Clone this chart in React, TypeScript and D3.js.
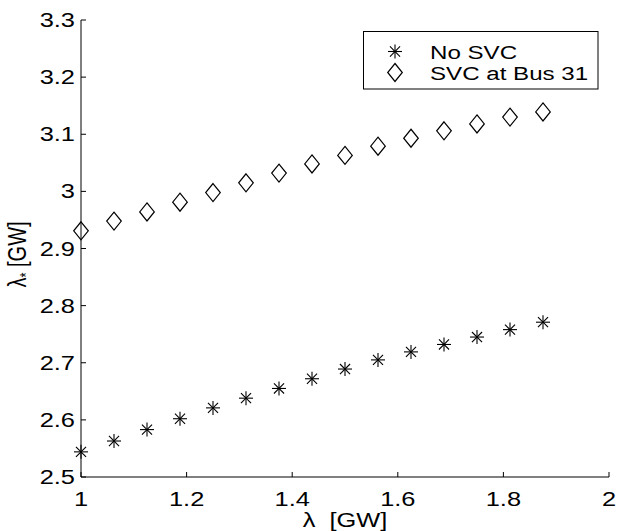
import React from "react";
import * as d3 from "d3";

const lambdaValues = [1, 1.0625, 1.125, 1.1875, 1.25, 1.3125, 1.375, 1.4375, 1.5, 1.5625, 1.625, 1.6875, 1.75, 1.8125, 1.875];
const noSvc = [2.544, 2.563, 2.583, 2.602, 2.621, 2.638, 2.655, 2.672, 2.689, 2.705, 2.719, 2.732, 2.745, 2.758, 2.771];
const svcBus31 = [2.931, 2.948, 2.964, 2.981, 2.998, 3.015, 3.032, 3.048, 3.063, 3.079, 3.093, 3.106, 3.118, 3.13, 3.139];
const xTicks = [1, 1.2, 1.4, 1.6, 1.8, 2];
const yTicks = [2.5, 2.6, 2.7, 2.8, 2.9, 3, 3.1, 3.2, 3.3];
const legendLabels = ["No SVC", "SVC at Bus 31"];

const W = 629;
const H = 531;
const margin = { top: 20, right: 20, bottom: 54, left: 81 };
const font = "'Liberation Sans', Arial, Helvetica, sans-serif";
// the original picture is stretched sideways, so the text is too
const sx = 1.27;

function Star({ x, y }: { x: number; y: number }) {
  const r = 7;
  const d = r * 0.72;
  return (
    <g stroke="#000" strokeWidth={1.1}>
      <line x1={x - r} y1={y} x2={x + r} y2={y} />
      <line x1={x} y1={y - r} x2={x} y2={y + r} />
      <line x1={x - d} y1={y - d} x2={x + d} y2={y + d} />
      <line x1={x - d} y1={y + d} x2={x + d} y2={y - d} />
    </g>
  );
}

function Diamond({ x, y }: { x: number; y: number }) {
  const w = 7.3;
  const h = 9;
  return (
    <path
      d={`M${x},${y - h}L${x + w},${y}L${x},${y + h}L${x - w},${y}Z`}
      fill="none"
      stroke="#000"
      strokeWidth={1.2}
    />
  );
}

function Label({ x, y, anchor, size, children }: { x: number; y: number; anchor?: string; size: number; children: React.ReactNode }) {
  return (
    <text transform={`translate(${x},${y}) scale(${sx},1)`} textAnchor={anchor || "start"} fontSize={size}>
      {children}
    </text>
  );
}

export default function App() {
  const x = d3.scaleLinear().domain([1, 2]).range([margin.left, W - margin.right]);
  const y = d3.scaleLinear().domain([2.5, 3.3]).range([H - margin.bottom, margin.top]);
  const x0 = x(1);
  const y0 = y(2.5);
  const tick = 5;

  return (
    <div style={{ position: "absolute", left: 0, top: 0 }}>
      <svg width={W} height={H} style={{ display: "block", background: "#fff" }} fontFamily={font}>
        <rect width={W} height={H} fill="#fff" />
        {/* axes */}
        <line x1={x0} y1={y(3.3)} x2={x0} y2={y0} stroke="#000" strokeWidth={1} />
        <line x1={x0} y1={y0} x2={x(2)} y2={y0} stroke="#000" strokeWidth={1} />
        {xTicks.map((t) => (
          <g key={"x" + t}>
            <line x1={x(t)} y1={y0} x2={x(t)} y2={y0 - tick} stroke="#000" />
            <Label x={x(t)} y={y0 + 29} anchor="middle" size={20}>
              {d3.format("~g")(t)}
            </Label>
          </g>
        ))}
        {yTicks.map((t) => (
          <g key={"y" + t}>
            <line x1={x0} y1={y(t)} x2={x0 + tick} y2={y(t)} stroke="#000" />
            <Label x={x0 - 6} y={y(t) + 7} anchor="end" size={20}>
              {d3.format("~g")(t)}
            </Label>
          </g>
        ))}
        {/* data */}
        {lambdaValues.map((l, i) => (
          <Star key={"s" + i} x={x(l)} y={y(noSvc[i])} />
        ))}
        {lambdaValues.map((l, i) => (
          <Diamond key={"d" + i} x={x(l)} y={y(svcBus31[i])} />
        ))}
        {/* axis labels */}
        <Label x={(x0 + x(2)) / 2} y={527} anchor="middle" size={20}>
          λ{"\u00a0\u00a0"}[GW]
        </Label>
        <text transform={`translate(26,${(y(3.3) + y0) / 2 + 6}) scale(${sx},1) rotate(-90)`} textAnchor="middle" fontSize={20}>
          λ<tspan fontSize={13} dy={5}>*</tspan>
          <tspan dy={-5}> [GW]</tspan>
        </text>
        {/* legend */}
        <rect x={363.5} y={31.5} width={234.5} height={57.5} fill="#fff" stroke="#000" strokeWidth={1} />
        <Star x={395} y={51.5} />
        <Diamond x={395} y={72.5} />
        <Label x={430} y={58.5} size={19}>{legendLabels[0]}</Label>
        <Label x={430} y={79.5} size={19}>{legendLabels[1]}</Label>
      </svg>
    </div>
  );
}
